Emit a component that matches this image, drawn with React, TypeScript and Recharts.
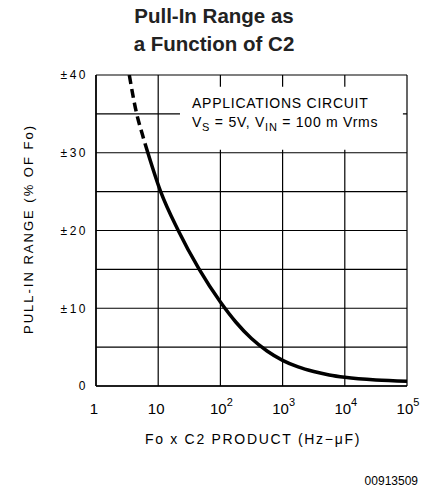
import React from 'react';
import { LineChart, Line, XAxis, YAxis, CartesianGrid, ReferenceArea } from 'recharts';

const xTicks = [1, 10, 100, 1000, 10000, 100000];
const xTickBase = ['1', '10', '10', '10', '10', '10'];
const xTickExp = ['', '', '2', '3', '4', '5'];
const yTicks = [0, 5, 10, 15, 20, 25, 30, 35, 40];
const yTickLabels = ['0', '', '±10', '', '±20', '', '±30', '', '±40'];

const dashedX = [3.43, 4.51, 5.5, 6.14];
const dashedY = [40, 35, 32.5, 31.2];
const solidX = [6.14, 10.96, 21, 45.7, 100, 178, 316, 562, 1000, 1778, 3162, 5623, 10000, 31623, 100000];
const solidY = [31.2, 25, 20, 15, 10.8, 8.2, 6.1, 4.5, 3.3, 2.45, 1.86, 1.42, 1.12, 0.77, 0.62];

const dashedData = dashedX.map((x, i) => ({ x, y: dashedY[i] }));
const solidData = solidX.map((x, i) => ({ x, y: solidY[i] }));

const FONT = '"Liberation Sans", Arial, Helvetica, sans-serif';

const XTick = (props: any) => {
  const { x, y, payload } = props;
  const i = xTicks.indexOf(payload.value);
  const base = xTickBase[i] ?? String(payload.value);
  const exp = xTickExp[i] ?? '';
  return (
    <text x={exp ? x + 1 : x - 2} y={y + 28} textAnchor="middle" fontFamily={FONT} fontSize={15} fill="#000">
      <tspan>{base}</tspan>
      {exp ? <tspan dy={-8} fontSize={11}>{exp}</tspan> : null}
    </text>
  );
};

const YTick = (props: any) => {
  const { x, y, payload } = props;
  const i = yTicks.indexOf(payload.value);
  const label = yTickLabels[i] ?? '';
  if (!label) return null;
  return (
    <text x={x + 2} y={y} dy="0.36em" textAnchor="end" fontFamily={FONT} fontSize={12} letterSpacing={2.5} fill="#000">
      {label}
    </text>
  );
};

export default function App() {
  return (
    <div style={{ position: 'absolute', left: 0, top: 0, width: 422, height: 488, background: '#fff' }}>
      <LineChart
        width={422}
        height={488}
        margin={{ top: 75, right: 15, bottom: 72, left: 46 }}
      >
        <CartesianGrid stroke="#000" strokeWidth={1.2} strokeOpacity={1} />
        <XAxis
          dataKey="x"
          type="number"
          scale="log"
          domain={[1, 100000]}
          ticks={xTicks}
          allowDataOverflow
          height={30}
          tickSize={0}
          tickMargin={0}
          axisLine={{ stroke: '#000', strokeWidth: 1.5 }}
          tickLine={false}
          tick={<XTick />}
          interval={0}
        />
        <YAxis
          dataKey="y"
          type="number"
          domain={[0, 40]}
          ticks={yTicks}
          width={50}
          tickSize={0}
          tickMargin={10}
          axisLine={{ stroke: '#000', strokeWidth: 1.5 }}
          tickLine={false}
          tick={<YTick />}
          interval={0}
          allowDataOverflow
        />
        <ReferenceArea x1={22.4} x2={86000} y1={30.4} y2={38.5} fill="#fff" fillOpacity={1} stroke="none" ifOverflow="visible" />
        <Line
          data={dashedData}
          dataKey="y"
          type="monotone"
          stroke="#000"
          strokeWidth={3.5}
          strokeDasharray="9 5"
          dot={false}
          isAnimationActive={false}
        />
        <Line
          data={solidData}
          dataKey="y"
          type="monotone"
          stroke="#000"
          strokeWidth={3.5}
          dot={false}
          isAnimationActive={false}
        />
      </LineChart>
      <svg width={422} height={488} style={{ position: 'absolute', left: 0, top: 0, pointerEvents: 'none' }}>
        <text x={214} y={23} textAnchor="middle" fontFamily={FONT} fontWeight="bold" fontSize={20.5} fill="#222">
          Pull-In Range as
        </text>
        <text x={214} y={51} textAnchor="middle" fontFamily={FONT} fontWeight="bold" fontSize={20.5} fill="#222">
          a Function of C2
        </text>
        <text x={192} y={108} fontFamily={FONT} fontSize={14} letterSpacing={0.75} fill="#000">
          APPLICATIONS CIRCUIT
        </text>
        <text x={192} y={127} fontFamily={FONT} fontSize={14} letterSpacing={0.75} fill="#000">
          <tspan>V</tspan>
          <tspan dy={4} fontSize={11}>S</tspan>
          <tspan dy={-4}> = 5V, V</tspan>
          <tspan dy={4} fontSize={11}>IN</tspan>
          <tspan dy={-4}> = 100 m Vrms</tspan>
        </text>
        <text x={0} y={0} transform="translate(33,229) rotate(-90)" textAnchor="middle" fontFamily={FONT} fontSize={13} letterSpacing={2} fill="#000">
          PULL-IN RANGE (% OF Fo)
        </text>
        <text x={253} y={444} textAnchor="middle" fontFamily={FONT} fontSize={14} letterSpacing={1.7} fill="#000">
          Fo x C2  PRODUCT (Hz−μF)
        </text>
        <text x={418} y={485} textAnchor="end" fontFamily={FONT} fontSize={12} fill="#000">
          00913509
        </text>
      </svg>
    </div>
  );
}
